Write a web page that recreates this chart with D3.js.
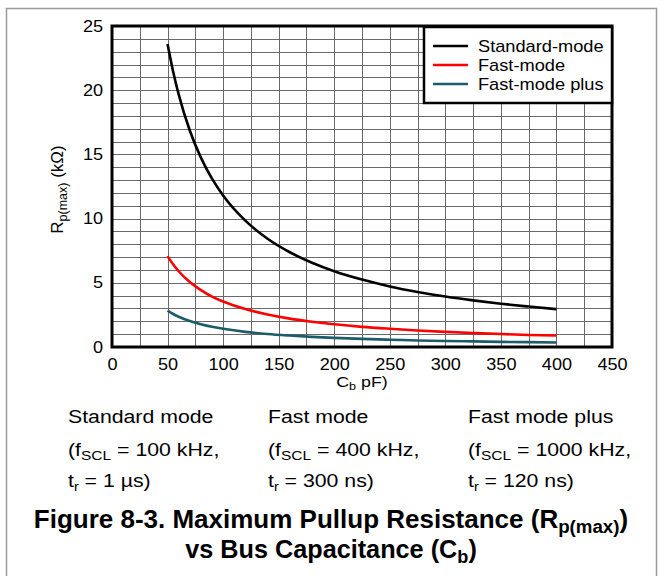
<!DOCTYPE html>
<html><head><meta charset="utf-8">
<script src="https://cdn.jsdelivr.net/npm/d3@7"></script>
<style>
html,body{margin:0;padding:0;background:#fff;}
svg{display:block;font-family:Arial,"Liberation Sans",sans-serif;}
</style></head>
<body>
<svg id="c" width="663" height="576"></svg>
<script>
// Data
const capacitance = [50,55,60,70,80,90,100,120,140,160,180,200,225,250,275,300,325,350,375,400];
const standardMode = [23.60,21.46,19.67,16.86,14.75,13.11,11.80,9.84,8.43,7.38,6.56,5.90,5.25,4.72,4.29,3.93,3.63,3.37,3.15,2.95];
const fastMode = [7.08,6.44,5.90,5.06,4.43,3.93,3.54,2.95,2.53,2.21,1.97,1.77,1.57,1.42,1.29,1.18,1.09,1.01,0.94,0.89];
const fastModePlus = [2.83,2.57,2.36,2.02,1.77,1.57,1.42,1.18,1.01,0.89,0.79,0.71,0.63,0.57,0.51,0.47,0.44,0.40,0.38,0.35];
const seriesNames = ["Standard-mode","Fast-mode","Fast-mode plus"];
const seriesColors = ["#000000","#ff0000","#1d5b6b"];
const xTicks = [0,50,100,150,200,250,300,350,400,450];
const yTicks = [0,5,10,15,20,25];

const svg = d3.select("#c");
const L=112, R=612, T=26, B=347;
const x = d3.scaleLinear().domain([0,450]).range([L,R]);
const y = d3.scaleLinear().domain([0,25]).range([B,T]);

// horizontal stretch helper (scales a text about its own x anchor)
function stretch(sel, sx){
  sel.each(function(){
    const t = d3.select(this);
    const ax = +(t.attr("x")||0);
    t.attr("transform",`translate(${ax*(1-sx)},0) scale(${sx},1)`);
  });
}

// outer frame
svg.append("rect").attr("x",6.5).attr("y",8.5).attr("width",650).attr("height",580)
  .attr("fill","none").attr("stroke","#9a9a9a").attr("stroke-width",1.5);

// grid
const g = svg.append("g");
g.selectAll("line.vx").data(d3.range(25,450,25)).join("line")
  .attr("x1",d=>Math.round(x(d))+0.5).attr("x2",d=>Math.round(x(d))+0.5)
  .attr("y1",T).attr("y2",B).attr("stroke","#6a6a6a").attr("stroke-width",1);
g.selectAll("line.hy").data(d3.range(1,25,1)).join("line")
  .attr("y1",d=>Math.round(y(d))+0.5).attr("y2",d=>Math.round(y(d))+0.5)
  .attr("x1",L).attr("x2",R).attr("stroke","#6a6a6a").attr("stroke-width",1);

// lines
const seriesData = [standardMode, fastMode, fastModePlus];
const line = d3.line().x(d=>x(d[0])).y(d=>y(d[1])).curve(d3.curveMonotoneX);
seriesData.forEach((vals,i)=>{
  svg.append("path").datum(capacitance.map((c,j)=>[c,vals[j]]))
    .attr("d",line).attr("fill","none").attr("stroke",seriesColors[i]).attr("stroke-width",2.6);
});

// plot border
svg.append("rect").attr("x",L).attr("y",T).attr("width",R-L).attr("height",B-T)
  .attr("fill","none").attr("stroke","#000").attr("stroke-width",3);

// axes labels
const xAxis = d3.axisBottom(x).tickValues(xTicks).tickSize(0).tickPadding(12);
const xa = svg.append("g").attr("transform",`translate(0,${B})`).call(xAxis);
xa.select(".domain").remove();
xa.selectAll("text").attr("font-size",16).attr("font-family","Arial,Liberation Sans,sans-serif").attr("fill","#000").call(stretch,1.13);

const yAxis = d3.axisLeft(y).tickValues(yTicks).tickSize(0).tickPadding(9);
const ya = svg.append("g").attr("transform",`translate(${L},0)`).call(yAxis);
ya.select(".domain").remove();
ya.selectAll("text").attr("font-size",16).attr("font-family","Arial,Liberation Sans,sans-serif").attr("fill","#000").call(stretch,1.13);

// x title
const xt = svg.append("text").attr("x",(L+R)/2).attr("y",387).attr("text-anchor","middle").attr("font-size",15.5);
xt.append("tspan").text("C");
xt.append("tspan").attr("font-size",11).attr("dy",3).text("b");
xt.append("tspan").attr("dy",-3).text(" pF)");
stretch(xt,1.15);

// y title
const yt = svg.append("text").attr("transform",`translate(63,${(T+B)/2+3}) rotate(-90)`).attr("text-anchor","middle").attr("font-size",17);
yt.append("tspan").text("R");
yt.append("tspan").attr("font-size",12.5).attr("dy",4).text("p(max)");
yt.append("tspan").attr("dy",-4).text(" (kΩ)");

// legend
const lg = svg.append("g");
lg.append("rect").attr("x",424).attr("y",27).attr("width",188).attr("height",76)
  .attr("fill","#fff").attr("stroke","#000").attr("stroke-width",2.5);
seriesNames.forEach((n,i)=>{
  const yy = 46 + i*19;
  lg.append("line").attr("x1",433).attr("x2",468).attr("y1",yy).attr("y2",yy)
    .attr("stroke",seriesColors[i]).attr("stroke-width",2.5);
  lg.append("text").attr("x",478).attr("y",yy+5.8).attr("font-size",16).text(n).call(stretch,1.14);
});

// mode descriptions
const modes = [
  {x:68, name:"Standard mode", f:"100 kHz,", t:"1 µs)"},
  {x:268, name:"Fast mode", f:"400 kHz,", t:"300 ns)"},
  {x:468, name:"Fast mode plus", f:"1000 kHz,", t:"120 ns)"}
];
modes.forEach(m=>{
  svg.append("text").attr("x",m.x).attr("y",423).attr("font-size",18.5).text(m.name).call(stretch,1.15);
  const t2 = svg.append("text").attr("x",m.x).attr("y",456).attr("font-size",18.5);
  t2.append("tspan").text("(f");
  t2.append("tspan").attr("font-size",13.5).attr("dy",4).text("SCL");
  t2.append("tspan").attr("dy",-4).text(" = "+m.f);
  stretch(t2,1.15);
  const t3 = svg.append("text").attr("x",m.x).attr("y",487).attr("font-size",18.5);
  t3.append("tspan").text("t");
  t3.append("tspan").attr("font-size",12.5).attr("dy",4).text("r");
  t3.append("tspan").attr("dy",-4).text(" = "+m.t);
  stretch(t3,1.15);
});

// figure title
const tf = "'Liberation Sans Narrow','Arial Narrow',Arial,sans-serif";
const t1 = svg.append("text").attr("x",331).attr("y",528).attr("text-anchor","middle")
  .attr("font-size",25).attr("font-weight","bold").attr("font-family",tf);
t1.append("tspan").text("Figure 8-3. Maximum Pullup Resistance (R");
t1.append("tspan").attr("font-size",18).attr("dy",5).text("p(max)");
t1.append("tspan").attr("dy",-5).text(")");
stretch(t1,1.04);
const t2 = svg.append("text").attr("x",331).attr("y",558).attr("text-anchor","middle")
  .attr("font-size",25).attr("font-weight","bold").attr("font-family",tf);
t2.append("tspan").text("vs Bus Capacitance (C");
t2.append("tspan").attr("font-size",18).attr("dy",5).text("b");
t2.append("tspan").attr("dy",-5).text(")");
stretch(t2,1.01);
</script>
</body></html>
